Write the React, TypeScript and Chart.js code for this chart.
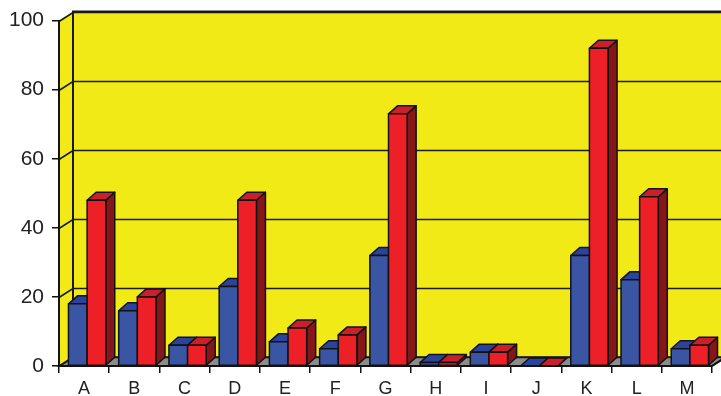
import React, { useEffect, useRef } from "react";
import { Chart, registerables } from "chart.js";

Chart.register(...registerables);

const categories = ["A", "B", "C", "D", "E", "F", "G", "H", "I", "J", "K", "L", "M"];
const seriesBlue = [18, 16, 6, 23, 7, 5, 32, 1, 4, 0, 32, 25, 5];
const seriesRed = [48, 20, 6, 48, 11, 9, 73, 1, 4, 0, 92, 49, 6];
const yTicks = [0, 20, 40, 60, 80, 100];

const WALL_DX = 14;
const WALL_DY = 9;
const BAR_DX = 9;
const BAR_DY = 8;
const SHIFT = 3;

const YELLOW = "#F2EA17";
const FLOOR = "#8C8C8C";
const faces = [
  { front: "#3B55A5", top: "#2B449B", side: "#1F2F70" },
  { front: "#EE2027", top: "#C9202C", side: "#85161A" },
];

const wallPlugin = {
  id: "wall3d",
  beforeDraw(chart: any) {
    const { ctx, chartArea } = chart;
    const { left, right, top, bottom } = chartArea;
    const y = chart.scales.y;
    ctx.save();
    ctx.fillStyle = "#FFFFFF";
    ctx.fillRect(0, 0, chart.width, chart.height);
    ctx.fillStyle = YELLOW;
    ctx.fillRect(left + WALL_DX, top - WALL_DY, right - left + 20, bottom - top);
    ctx.beginPath();
    ctx.moveTo(left, top);
    ctx.lineTo(left + WALL_DX, top - WALL_DY);
    ctx.lineTo(left + WALL_DX, bottom - WALL_DY);
    ctx.lineTo(left, bottom);
    ctx.closePath();
    ctx.fill();
    ctx.fillStyle = FLOOR;
    ctx.beginPath();
    ctx.moveTo(left, bottom);
    ctx.lineTo(right, bottom);
    ctx.lineTo(right + WALL_DX, bottom - WALL_DY);
    ctx.lineTo(left + WALL_DX, bottom - WALL_DY);
    ctx.closePath();
    ctx.fill();
    ctx.strokeStyle = "#111";
    ctx.lineWidth = 1.5;
    ctx.stroke();
    ctx.lineWidth = 1.6;
    ctx.strokeStyle = "#1A1A1A";
    for (const v of yTicks) {
      const py = Math.round(y.getPixelForValue(v)) + 0.5;
      ctx.beginPath();
      ctx.moveTo(left, py);
      ctx.lineTo(left + WALL_DX, py - WALL_DY);
      ctx.lineTo(chart.width + 5, py - WALL_DY);
      ctx.stroke();
    }
    ctx.lineWidth = 2;
    ctx.beginPath();
    ctx.moveTo(left + WALL_DX, bottom - WALL_DY);
    ctx.lineTo(left + WALL_DX, top - WALL_DY);
    ctx.lineTo(chart.width + 5, top - WALL_DY);
    ctx.stroke();
    ctx.restore();
  },
  beforeDatasetsDraw(chart: any) {
    const { ctx } = chart;
    ctx.save();
    ctx.translate(SHIFT, 0);
    ctx.lineWidth = 1.5;
    ctx.strokeStyle = "#111";
    ctx.lineJoin = "round";
    const n = categories.length;
    for (let i = 0; i < n; i++) {
      chart.data.datasets.forEach((ds: any, di: number) => {
        const el = chart.getDatasetMeta(di).data[i];
        if (!el) return;
        const p = el.getProps(["x", "y", "base", "width"], true);
        const x0 = p.x - p.width / 2;
        const x1 = p.x + p.width / 2;
        const yt = p.y;
        const yb = p.base;
        const f = faces[di];
        ctx.fillStyle = f.side;
        ctx.beginPath();
        ctx.moveTo(x1, yb);
        ctx.lineTo(x1 + BAR_DX, yb - BAR_DY);
        ctx.lineTo(x1 + BAR_DX, yt - BAR_DY);
        ctx.lineTo(x1, yt);
        ctx.closePath();
        ctx.fill();
        ctx.stroke();
        ctx.fillStyle = f.top;
        ctx.beginPath();
        ctx.moveTo(x0, yt);
        ctx.lineTo(x1, yt);
        ctx.lineTo(x1 + BAR_DX, yt - BAR_DY);
        ctx.lineTo(x0 + BAR_DX, yt - BAR_DY);
        ctx.closePath();
        ctx.fill();
        ctx.stroke();
        ctx.fillStyle = f.front;
        ctx.fillRect(x0, yt, x1 - x0, yb - yt);
        ctx.strokeRect(x0, yt, x1 - x0, yb - yt);
      });
    }
    ctx.restore();
    return false;
  },
  afterDraw(chart: any) {
    const { ctx, chartArea } = chart;
    const { left, right, bottom } = chartArea;
    ctx.save();
    ctx.strokeStyle = "#111";
    ctx.lineWidth = 2;
    ctx.beginPath();
    ctx.moveTo(right, bottom);
    ctx.lineTo(right + WALL_DX, bottom - WALL_DY);
    ctx.stroke();
    ctx.beginPath();
    ctx.moveTo(left, bottom);
    ctx.lineTo(right, bottom);
    ctx.stroke();
    ctx.restore();
  },
};

export default function App() {
  const ref = useRef<HTMLCanvasElement>(null);
  useEffect(() => {
    if (!ref.current) return;
    const chart = new Chart(ref.current, {
      type: "bar",
      data: {
        labels: categories,
        datasets: [
          { label: "Series 1", data: seriesBlue, backgroundColor: faces[0].front, borderColor: "#111", borderWidth: 1.5 },
          { label: "Series 2", data: seriesRed, backgroundColor: faces[1].front, borderColor: "#111", borderWidth: 1.5 },
        ],
      },
      options: {
        responsive: false,
        animation: false,
        devicePixelRatio: 1,
        layout: { padding: { top: 20, right: 9, left: 0, bottom: 0 } },
        plugins: { legend: { display: false }, tooltip: { enabled: false } },
        datasets: { bar: { categoryPercentage: 0.742, barPercentage: 1 } },
        scales: {
          x: {
            grid: { offset: true, drawOnChartArea: false, color: "#111", tickLength: 7, lineWidth: 1.5 },
            border: { display: true, color: "#111", width: 2 },
            ticks: { color: "#222", font: { family: "'Liberation Sans', Arial, sans-serif", size: 18 }, padding: 5, maxRotation: 0 },
            afterFit: (s: any) => { s.height = 30; },
          },
          y: {
            min: 0,
            max: 100,
            ticks: { stepSize: 20, color: "#222", font: { family: "'Liberation Sans', Arial, sans-serif", size: 21 }, padding: 8 },
            grid: { drawOnChartArea: false, color: "#111", tickLength: 7, lineWidth: 1.5 },
            border: { display: true, color: "#111", width: 2 },
            afterFit: (s: any) => { s.width = 59; },
          },
        },
      },
      plugins: [wallPlugin],
    });
    return () => chart.destroy();
  }, []);
  return (
    <div style={{ position: "absolute", left: 0, top: 0, width: 721, height: 396 }}>
      <canvas ref={ref} width={721} height={396} style={{ display: "block" }} />
    </div>
  );
}
